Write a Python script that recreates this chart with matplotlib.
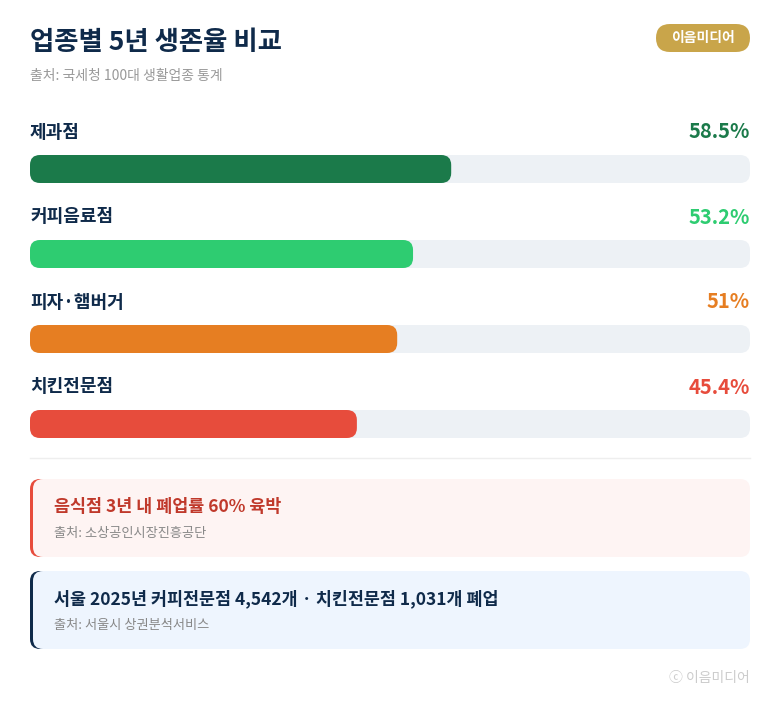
import matplotlib
matplotlib.use("Agg")
import matplotlib.pyplot as plt
from matplotlib.patches import FancyBboxPatch

plt.rcParams['font.family'] = ['Noto Sans CJK KR', 'DejaVu Sans']

categories = ["제과점", "커피음료점", "피자·햄버거", "치킨전문점"]
values = [58.5, 53.2, 51.0, 45.4]
value_labels = ["58.5%", "53.2%", "51%", "45.4%"]
colors = ["#1b7a4a", "#2ecc71", "#e67e22", "#e74c3c"]

title = "업종별 5년 생존율 비교"
subtitle = "출처: 국세청 100대 생활업종 통계"
notes = [("음식점 3년 내 폐업률 60% 육박", "출처: 소상공인시장진흥공단", "#c0392b", "#e74c3c", "#fef4f3"),
         ("서울 2025년 커피전문점 4,542개 · 치킨전문점 1,031개 폐업", "출처: 서울시 상권분석서비스", "#0f2a4a", "#0f2a4a", "#eef5fe")]

fig = plt.figure(figsize=(7.78, 7.12), dpi=100)
ax = fig.add_axes([0, 0, 1, 1])
ax.set_xlim(0, 778); ax.set_ylim(712, 0); ax.axis('off')

ax.text(30, 43, title, fontsize=19, fontweight='bold', color='#0f2a4a', va='center')
ax.text(30, 76, subtitle, fontsize=10, color='#999999', va='center')
ax.add_patch(FancyBboxPatch((656, 24), 94, 28, boxstyle="round,pad=0,rounding_size=14",
                            fc='#c9a54a', ec='none'))
ax.text(703, 38, "이음미디어", fontsize=10, fontweight='bold', color='white', ha='center', va='center')

x0, W = 30, 720
for i, (c, v, lab, col) in enumerate(zip(categories, values, value_labels, colors)):
    yl = 132 + 85 * i
    yb = 155 + 85 * i
    ax.text(x0, yl, c, fontsize=13, fontweight='bold', color='#0f2a4a', va='center')
    ax.text(x0 + W, yl, lab, fontsize=14.5, fontweight='bold', color=col, va='center', ha='right')
    ax.add_patch(FancyBboxPatch((x0, yb), W, 28, boxstyle="round,pad=0,rounding_size=10",
                                fc='#edf1f5', ec='none'))
    ax.add_patch(FancyBboxPatch((x0, yb), W * v / 100, 28, boxstyle="round,pad=0,rounding_size=10",
                                fc=col, ec='none'))

ax.plot([30, 750], [458, 458], color='#eeeeee', lw=1)

for j, (t, s, tc, bc, bg) in enumerate(notes):
    y = 479 + 92 * j
    ax.add_patch(FancyBboxPatch((30, y), 40, 78, boxstyle="round,pad=0,rounding_size=10", fc=bc, ec='none'))
    ax.add_patch(FancyBboxPatch((33, y), 717, 78, boxstyle="round,pad=0,rounding_size=10", fc=bg, ec='none'))
    ax.text(54, y + 28, t, fontsize=12.5, fontweight='bold', color=tc, va='center')
    ax.text(54, y + 54, s, fontsize=9.5, color='#888888', va='center')

ax.text(750, 678, "ⓒ 이음미디어", fontsize=10, color='#cccccc', ha='right', va='center')

fig.savefig("out.png", dpi=100, facecolor='white')
